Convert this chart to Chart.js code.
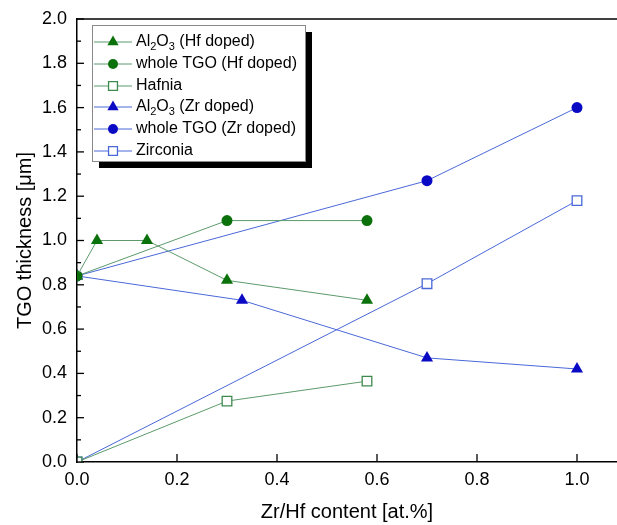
<!DOCTYPE html>
<html>
<head>
<meta charset="utf-8">
<script src="https://cdn.jsdelivr.net/npm/chart.js@4"></script>
<style>
html,body{margin:0;padding:0;background:#fff;overflow:hidden;}
#wrap{width:617px;height:525px;}
canvas{display:block;}
</style>
</head>
<body>
<div id="wrap"><canvas id="c" width="617" height="525"></canvas></div>
<script>
// ---- data ----
const seriesNames = ["Al2O3 (Hf doped)", "whole TGO (Hf doped)", "Hafnia", "Al2O3 (Zr doped)", "whole TGO (Zr doped)", "Zirconia"];
const alHfX = [0, 0.04, 0.14, 0.30, 0.58];
const alHfY = [0.84, 1.00, 1.00, 0.82, 0.73];
const tgoHfX = [0, 0.30, 0.58];
const tgoHfY = [0.84, 1.09, 1.09];
const hafniaX = [0, 0.30, 0.58];
const hafniaY = [0.00, 0.275, 0.365];
const alZrX = [0, 0.33, 0.70, 1.00];
const alZrY = [0.84, 0.73, 0.47, 0.42];
const tgoZrX = [0, 0.70, 1.00];
const tgoZrY = [0.84, 1.27, 1.60];
const zirconiaX = [0, 0.70, 1.00];
const zirconiaY = [0.00, 0.805, 1.18];
const xTicks = [0, 0.2, 0.4, 0.6, 0.8, 1.0];
const yTicks = [0, 0.2, 0.4, 0.6, 0.8, 1.0, 1.2, 1.4, 1.6, 1.8, 2.0];
const yMinorTicks = [0.1, 0.3, 0.5, 0.7, 0.9, 1.1, 1.3, 1.5, 1.7, 1.9];

const GREEN_M = '#0b710b', GREEN_L = '#5c9a6c';
const BLUE_M = '#0a0ac4', BLUE_L = '#4a68d8';
const FONT = 'Liberation Sans, Arial, sans-serif';

function pts(xs, ys){ return xs.map((x,i)=>({x:x, y:ys[i]})); }

function ds(label, xs, ys, lineCol, markCol, style, r, filled){
  return {
    label: label,
    data: pts(xs, ys),
    borderColor: lineCol,
    borderWidth: 1,
    pointStyle: style,
    pointRadius: r,
    pointBorderWidth: filled ? 0 : 1.3,
    pointBackgroundColor: filled ? markCol : '#ffffff',
    pointBorderColor: filled ? markCol : lineCol,
    showLine: true,
    tension: 0
  };
}

const datasets = [
  ds(seriesNames[0], alHfX, alHfY, GREEN_L, GREEN_M, 'triangle', 7, true),
  ds(seriesNames[1], tgoHfX, tgoHfY, GREEN_L, GREEN_M, 'circle', 5.5, true),
  ds(seriesNames[2], hafniaX, hafniaY, GREEN_L, '#3d8a4d', 'rect', 6.8, false),
  ds(seriesNames[3], alZrX, alZrY, BLUE_L, BLUE_M, 'triangle', 7, true),
  ds(seriesNames[4], tgoZrX, tgoZrY, BLUE_L, BLUE_M, 'circle', 5.5, true),
  ds(seriesNames[5], zirconiaX, zirconiaY, BLUE_L, '#4a68d8', 'rect', 6.8, false)
];
datasets[2].pointBorderColor = '#3d8a4d';
datasets[5].pointBorderColor = '#4a68d8';

const decor = {
  id: 'decor',
  afterDatasetsDraw(chart){
    const ctx = chart.ctx, xs = chart.scales.x, ys = chart.scales.y, a = chart.chartArea;
    ctx.save();
    ctx.strokeStyle = '#000';
    ctx.lineWidth = 1.5;
    ctx.beginPath(); ctx.moveTo(a.left, a.top); ctx.lineTo(a.right, a.top); ctx.stroke();
    ctx.lineWidth = 1.3;
    xTicks.forEach(v=>{ const p = xs.getPixelForValue(v); ctx.beginPath(); ctx.moveTo(p, a.bottom); ctx.lineTo(p, a.bottom-8); ctx.stroke(); });
    yTicks.forEach(v=>{ const p = ys.getPixelForValue(v); ctx.beginPath(); ctx.moveTo(a.left, p); ctx.lineTo(a.left+7, p); ctx.stroke(); });
    yMinorTicks.forEach(v=>{ const p = ys.getPixelForValue(v); ctx.beginPath(); ctx.moveTo(a.left, p); ctx.lineTo(a.left+4, p); ctx.stroke(); });
    ctx.restore();
  },
  afterDraw(chart){
    const ctx = chart.ctx;
    ctx.save();
    const L = 92, T = 25, R = 305, B = 161;
    ctx.fillStyle = '#000';
    ctx.fillRect(L+7, T+7, R-L, B-T);
    ctx.fillStyle = '#fff';
    ctx.fillRect(L, T, R-L, B-T);
    ctx.strokeStyle = '#8a8a8a';
    ctx.lineWidth = 1;
    ctx.strokeRect(L+0.5, T+0.5, R-L, B-T);
    const rowY = [42, 64, 86, 107, 129, 151];
    chart.data.datasets.forEach((d, i)=>{
      const y = rowY[i];
      ctx.strokeStyle = d.borderColor; ctx.lineWidth = 1;
      ctx.beginPath(); ctx.moveTo(94, y); ctx.lineTo(132, y); ctx.stroke();
      ctx.fillStyle = d.pointBackgroundColor; ctx.strokeStyle = d.pointBorderColor; ctx.lineWidth = d.pointBorderWidth || 0;
      Chart.helpers.drawPoint(ctx, {pointStyle: d.pointStyle, radius: d.pointRadius - 0.5, borderWidth: d.pointBorderWidth}, 113, y);
      ctx.fillStyle = '#000';
      ctx.textBaseline = 'middle';
      ctx.textAlign = 'left';
      let x = 136;
      const parts = d.label.startsWith('Al2O3') ? [['Al',0],['2',1],['O',0],['3',1],[d.label.slice(5),0]] : [[d.label,0]];
      parts.forEach(p=>{
        if (p[1]) { ctx.font = '11px ' + FONT; ctx.fillText(p[0], x, y+5); }
        else { ctx.font = '16px ' + FONT; ctx.fillText(p[0], x, y); }
        x += ctx.measureText(p[0]).width;
      });
    });
    ctx.restore();
  }
};

new Chart(document.getElementById('c'), {
  type: 'scatter',
  data: { datasets: datasets },
  options: {
    responsive: false,
    animation: false,
    layout: { autoPadding: false, padding: { top: 19, right: 0, left: 0, bottom: 0 } },
    plugins: { legend: { display: false }, tooltip: { enabled: false } },
    scales: {
      x: {
        type: 'linear', min: 0, max: 1.08,
        afterBuildTicks(s){ s.ticks = xTicks.map(v=>({value:v})); },
        afterFit(s){ s.height = 63; s.paddingLeft = 0; s.paddingRight = 0; },
        grid: { display: false, drawTicks: false },
        border: { display: true, color: '#000', width: 1.5 },
        ticks: { color: '#000', font: { family: FONT, size: 18 }, padding: 7, maxRotation: 0,
                 callback: v => v.toFixed(1) },
        title: { display: true, text: 'Zr/Hf content [at.%]', color: '#000', font: { family: FONT, size: 20 }, padding: { top: 0, bottom: 1 } }
      },
      y: {
        type: 'linear', min: 0, max: 2.0,
        afterBuildTicks(s){ s.ticks = yTicks.map(v=>({value:v})); },
        afterFit(s){ s.width = 77; s.paddingTop = 0; s.paddingBottom = 0; },
        grid: { display: false, drawTicks: false },
        border: { display: true, color: '#000', width: 1.5 },
        ticks: { color: '#000', font: { family: FONT, size: 18 }, padding: 10,
                 callback: v => v.toFixed(1) },
        title: { display: true, text: 'TGO thickness [μm]', color: '#000', font: { family: FONT, size: 20 }, padding: { top: 13, bottom: 0 } }
      }
    }
  },
  plugins: [decor]
});
</script>
</body>
</html>
